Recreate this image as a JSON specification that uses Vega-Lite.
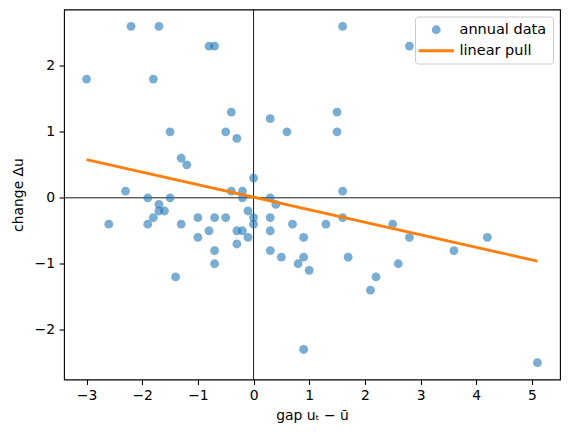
{
  "$schema": "https://vega.github.io/schema/vega-lite/v6.json",
  "width": 496,
  "height": 370,
  "autosize": {"type": "none"},
  "padding": {"left": 64, "top": 9.5, "right": 9, "bottom": 56.5},
  "datasets": {
    "annual": [
      {"gap": -2.2, "change": 2.6}, {"gap": -1.7, "change": 2.6}, {"gap": -0.8, "change": 2.3},
      {"gap": -0.7, "change": 2.3}, {"gap": -3.0, "change": 1.8}, {"gap": -1.8, "change": 1.8},
      {"gap": -0.4, "change": 1.3}, {"gap": -1.5, "change": 1.0}, {"gap": -0.5, "change": 1.0},
      {"gap": -0.3, "change": 0.9}, {"gap": -1.3, "change": 0.6}, {"gap": -1.2, "change": 0.5},
      {"gap": 0.0, "change": 0.3}, {"gap": -2.3, "change": 0.1}, {"gap": -0.4, "change": 0.1},
      {"gap": -0.2, "change": 0.1}, {"gap": -1.9, "change": 0.0}, {"gap": -1.5, "change": 0.0},
      {"gap": -0.2, "change": 0.0}, {"gap": 1.6, "change": 2.6}, {"gap": 2.8, "change": 2.3},
      {"gap": 0.3, "change": 1.2}, {"gap": 1.5, "change": 1.3}, {"gap": 0.6, "change": 1.0},
      {"gap": 1.5, "change": 1.0}, {"gap": 1.6, "change": 0.1}, {"gap": 0.3, "change": 0.0},
      {"gap": -1.7, "change": -0.1}, {"gap": -1.7, "change": -0.2}, {"gap": -1.6, "change": -0.2},
      {"gap": -1.8, "change": -0.3}, {"gap": -2.6, "change": -0.4}, {"gap": -1.9, "change": -0.4},
      {"gap": -1.3, "change": -0.4}, {"gap": -1.0, "change": -0.3}, {"gap": -0.7, "change": -0.3},
      {"gap": -0.5, "change": -0.3}, {"gap": -0.1, "change": -0.2}, {"gap": 0.0, "change": -0.3},
      {"gap": 0.0, "change": -0.4}, {"gap": -0.8, "change": -0.5}, {"gap": -0.3, "change": -0.5},
      {"gap": -0.2, "change": -0.5}, {"gap": -1.0, "change": -0.6}, {"gap": -0.1, "change": -0.6},
      {"gap": -0.3, "change": -0.7}, {"gap": -0.7, "change": -0.8}, {"gap": -0.7, "change": -1.0},
      {"gap": -1.4, "change": -1.2}, {"gap": 0.4, "change": -0.1}, {"gap": 0.3, "change": -0.3},
      {"gap": 0.3, "change": -0.5}, {"gap": 0.7, "change": -0.4}, {"gap": 0.9, "change": -0.6},
      {"gap": 0.3, "change": -0.8}, {"gap": 0.5, "change": -0.9}, {"gap": 0.8, "change": -1.0},
      {"gap": 0.9, "change": -0.9}, {"gap": 1.0, "change": -1.1}, {"gap": 1.3, "change": -0.4},
      {"gap": 1.6, "change": -0.3}, {"gap": 1.7, "change": -0.9}, {"gap": 2.2, "change": -1.2},
      {"gap": 2.1, "change": -1.4}, {"gap": 2.5, "change": -0.4}, {"gap": 2.8, "change": -0.6},
      {"gap": 2.6, "change": -1.0}, {"gap": 3.6, "change": -0.8}, {"gap": 4.2, "change": -0.6},
      {"gap": 0.9, "change": -2.3}, {"gap": 5.1, "change": -2.5}
    ],
    "pull": [
      {"gap": -3.0, "change": 0.58},
      {"gap": 5.1, "change": -0.96}
    ]
  },
  "layer": [
    {
      "data": {"values": [{}]},
      "mark": {"type": "rule", "color": "black", "strokeWidth": 0.9},
      "encoding": {
        "y": {"datum": 0, "type": "quantitative", "scale": {"domain": [-2.755, 2.855], "nice": false, "zero": false}}
      }
    },
    {
      "data": {"values": [{}]},
      "mark": {"type": "rule", "color": "black", "strokeWidth": 0.9},
      "encoding": {
        "x": {"datum": 0, "type": "quantitative", "scale": {"domain": [-3.405, 5.505], "nice": false, "zero": false}}
      }
    },
    {
      "data": {"name": "annual"},
      "mark": {"type": "point", "filled": true, "size": 78, "fillOpacity": 0.6},
      "encoding": {
        "x": {
          "field": "gap", "type": "quantitative",
          "scale": {"domain": [-3.405, 5.505], "nice": false, "zero": false},
          "axis": {"values": [-3, -2, -1, 0, 1, 2, 3, 4, 5], "format": "d", "title": "gap uₜ − ū"}
        },
        "y": {
          "field": "change", "type": "quantitative",
          "scale": {"domain": [-2.755, 2.855], "nice": false, "zero": false},
          "axis": {"values": [-2, -1, 0, 1, 2], "format": "d", "title": "change Δu"}
        },
        "color": {
          "datum": "annual data",
          "scale": {"domain": ["annual data", "linear pull"], "range": ["#1f77b4", "#ff7f0e"]},
          "legend": {
            "title": null,
            "encode": {
              "symbols": {
                "update": {
                  "stroke": {"signal": "datum.value === 'linear pull' ? '#ff7f0e' : 'transparent'"},
                  "strokeWidth": {"signal": "datum.value === 'linear pull' ? 2.8 : 0"},
                  "strokeOpacity": {"value": 1},
                  "fillOpacity": {"value": 0.6},
                  "opacity": {"value": 1}
                }
              }
            }
          }
        },
        "shape": {
          "datum": "annual data",
          "scale": {"domain": ["annual data", "linear pull"], "range": ["circle", "M-4,0H4"]},
          "legend": {"title": null}
        }
      }
    },
    {
      "data": {"name": "pull"},
      "mark": {"type": "line", "strokeWidth": 2.8},
      "encoding": {
        "x": {"field": "gap", "type": "quantitative", "scale": {"domain": [-3.405, 5.505], "nice": false, "zero": false}, "title": "gap uₜ − ū"},
        "y": {"field": "change", "type": "quantitative", "scale": {"domain": [-2.755, 2.855], "nice": false, "zero": false}, "title": "change Δu"},
        "color": {"datum": "linear pull"}
      }
    }
  ],
  "config": {
    "font": "DejaVu Sans",
    "view": {"stroke": "black", "strokeWidth": 1.1},
    "axis": {
      "domain": false,
      "grid": false,
      "tickColor": "black",
      "tickWidth": 1.1,
      "tickSize": 4.9,
      "labelFont": "DejaVu Sans",
      "labelFontSize": 13.9,
      "labelColor": "black",
      "labelPadding": 4.5,
      "labelFlush": false,
      "labelOverlap": false,
      "titleFont": "DejaVu Sans",
      "titleFontSize": 13.9,
      "titleFontWeight": "normal",
      "titleColor": "black"
    },
    "axisX": {"titlePadding": 6},
    "axisY": {"titlePadding": 9},
    "legend": {
      "orient": "top-right",
      "offset": 7,
      "padding": 6,
      "strokeColor": "#cccccc",
      "fillColor": "rgba(255,255,255,0.8)",
      "cornerRadius": 3,
      "labelFont": "DejaVu Sans",
      "labelFontSize": 14.5,
      "labelColor": "black",
      "rowPadding": 6,
      "symbolSize": 78,
      "symbolStrokeWidth": 2.8,
      "symbolOffset": 8,
      "labelOffset": 16
    }
  }
}
